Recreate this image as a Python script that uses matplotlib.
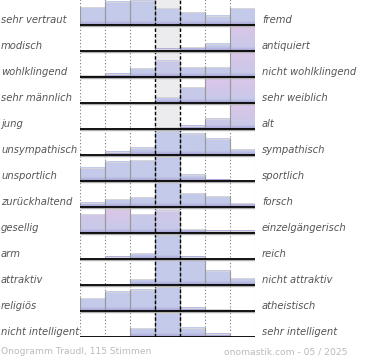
import numpy as np
import matplotlib
matplotlib.use("Agg")
import matplotlib.pyplot as plt
import matplotlib.transforms as mtransforms
from matplotlib.colors import to_rgb

# Eigenschaftspaare (links / rechts)
links = ["sehr vertraut", "modisch", "wohlklingend", "sehr männlich", "jung",
         "unsympathisch", "unsportlich", "zurückhaltend", "gesellig", "arm",
         "attraktiv", "religiös", "nicht intelligent"]
rechts = ["fremd", "antiquiert", "nicht wohlklingend", "sehr weiblich", "alt",
          "sympathisch", "sportlich", "forsch", "einzelgängerisch", "reich",
          "nicht attraktiv", "atheistisch", "sehr intelligent"]

# Stimmenanteile je Stufe (1 = volle Zeilenhoehe, mehr wird abgeschnitten)
anteile = [
    [0.69, 0.90, 0.94, 0.65, 0.50, 0.35, 0.65],
    [0.00, 0.00, 0.00, 0.08, 0.15, 0.27, 1.20],
    [0.06, 0.12, 0.33, 0.62, 0.38, 0.38, 1.20],
    [0.00, 0.00, 0.00, 0.23, 0.60, 1.20, 1.20],
    [0.00, 0.00, 0.02, 0.06, 0.12, 0.40, 1.20],
    [0.00, 0.13, 0.27, 0.94, 0.81, 0.62, 0.23],
    [0.51, 0.74, 0.80, 0.94, 0.25, 0.05, 0.00],
    [0.17, 0.30, 0.37, 0.96, 0.53, 0.41, 0.14],
    [0.72, 0.94, 0.72, 0.85, 0.15, 0.08, 0.08],
    [0.00, 0.08, 0.22, 0.94, 0.08, 0.00, 0.00],
    [0.00, 0.00, 0.23, 0.96, 0.96, 0.55, 0.26],
    [0.49, 0.74, 0.81, 0.94, 0.13, 0.07, 0.00],
    [0.00, 0.00, 0.33, 0.91, 0.36, 0.13, 0.00],
]

# Rosa-Anteil an der Balkenspitze
rosa = [
    [0, 0, 0, 0, 0, 0, 0],
    [0, 0, 0, 0, 0, 0, 1],
    [0, 0, 0, 0.3, 0, 0, 1],
    [0, 0, 0, 0, 0.2, 1, 1],
    [0, 0, 0, 0, 0, 0.4, 1],
    [0, 0, 0, 0, 0, 0, 0],
    [0, 0, 0, 0, 0, 0, 0],
    [0, 0, 0, 0, 0, 0, 0],
    [0.6, 1, 0.2, 0.6, 0, 0, 0],
    [0, 0, 0, 0, 0, 0, 0],
    [0, 0, 0, 0, 0, 0, 0],
    [0, 0, 0, 0, 0, 0, 0],
    [0, 0, 0, 0, 0, 0, 0],
]

titel = "Onogramm Traudl, 115 Stimmen"
quelle = "onomastik.com - 05 / 2025"

W, H = 370, 360
fig = plt.figure(figsize=(W / 100, H / 100), dpi=100)
ax = fig.add_axes([80 / W, (H - 337) / H, 175 / W, 338 / H])
ax.set_axis_off()

n_rows = len(links)
n_cols = 7
blau = np.array(to_rgb("#c4caea"))
lila = np.array(to_rgb("#a59ed2"))
pink = np.array(to_rgb("#ddc5e7"))
row_px = 26.0

# grauer Mittelstreifen
ax.axvspan(3, 4, color="#ececef", zorder=0, lw=0)

for x in [0, 1, 2, 5, 6, 7]:
    ax.axvline(x, color="#7a7a7a", lw=0.8, ls=(0, (1, 2)), zorder=1)
for x in [3, 4]:
    ax.axvline(x, color="black", lw=1.0, ls=(0, (2.5, 1.5)), zorder=5)

for i in range(n_rows):
    base = n_rows - 1 - i
    for j in range(n_cols):
        v = anteile[i][j]
        h = min(v, 1.0)
        if h <= 0:
            continue
        n = 40
        yy = np.linspace(0, h, n)
        d = yy * row_px
        top = blau + (pink - blau) * rosa[i][j]
        t = (yy / h)[:, None]
        col = blau + (top - blau) * t
        f = np.clip(1 - d / 4.0, 0, 1)[:, None]
        col = col * (1 - f) + lila * f
        img = np.repeat(col[:, None, :], 2, axis=1)
        ax.imshow(img, extent=[j, j + 1, base, base + h], origin="lower",
                  aspect="auto", interpolation="bilinear", zorder=2)
        ax.plot([j, j + 1], [base + h, base + h], color="#d6d6da", lw=0.7, zorder=3)
        ax.plot([j, j], [base, base + h], color="#9a9a9a", lw=0.8, zorder=3)
        ax.plot([j + 1, j + 1], [base, base + h], color="#9a9a9a", lw=0.8, zorder=3)
    # Grundlinie mit Schatten
    ax.plot([0, 7], [base - 0.045, base - 0.045], color="#b0b0b0", lw=1.0, zorder=6,
            solid_capstyle="butt")
    ax.plot([0, 7], [base, base], color="black", lw=1.3, zorder=7, solid_capstyle="butt")

ax.set_xlim(0, 7)
ax.set_ylim(0, n_rows)

tr = mtransforms.blended_transform_factory(fig.transFigure, ax.transData)
for i in range(n_rows):
    base = n_rows - 1 - i
    ax.text(1 / W, base + 0.2, links[i], transform=tr, ha="left", va="center",
            fontsize=7.2, style="italic", color="#555555")
    ax.text(262 / W, base + 0.2, rechts[i], transform=tr, ha="left", va="center",
            fontsize=7.2, style="italic", color="#555555")

fig.text(1 / W, 1 - 352 / H, titel, ha="left", va="center", fontsize=6.6, color="#bbbbbb")
fig.text(347 / W, 1 - 352 / H, quelle, ha="right", va="center", fontsize=6.6, color="#bbbbbb")

fig.savefig("out.png", dpi=100)
